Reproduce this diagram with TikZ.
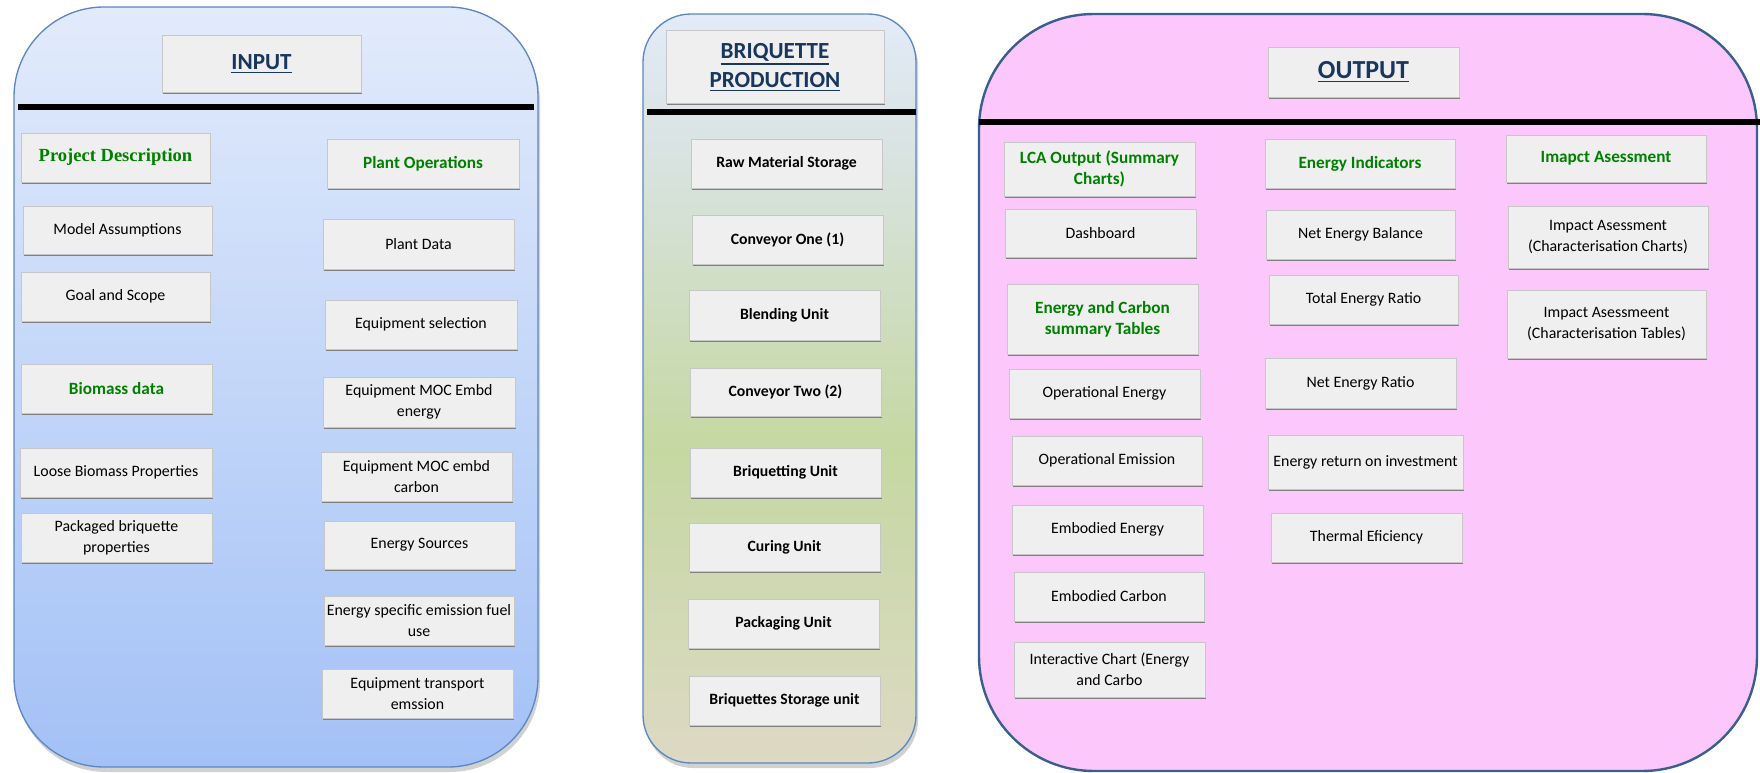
\documentclass[tikz,border=0pt]{standalone}
\usepackage{fontspec}
\setmainfont{Carlito}
\newfontfamily\serifbold{Liberation Serif}
\usetikzlibrary{shadows}

\definecolor{inTop}{HTML}{E2EBFB}
\definecolor{inBot}{HTML}{A3C1F6}
\definecolor{panelEdge}{HTML}{5B87C2}
\definecolor{outEdge}{HTML}{3A5F8E}
\definecolor{outFill}{HTML}{FCC8FC}
\definecolor{btnFill}{HTML}{EFEFEF}
\definecolor{hdrGreen}{HTML}{008000}
\definecolor{titleBlue}{HTML}{17375E}
\definecolor{brqTop}{HTML}{E2EBF8}
\definecolor{brqUpper}{HTML}{D9E3E2}
\definecolor{brqMid}{HTML}{C5D8A2}
\definecolor{brqBot}{HTML}{DDD9C4}
\pgfdeclareverticalshading{brqshade}{100bp}{color(0bp)=(brqBot); color(25bp)=(brqBot); color(46bp)=(brqMid); color(66bp)=(brqUpper); color(75bp)=(brqTop); color(100bp)=(brqTop)}

% underlined heading word
\newcommand\ulword[1]{\leavevmode\vtop{\hbox{#1}\kern1.6pt\hrule height 0.9pt}}

\tikzset{
  btn/.style={draw=black!22, line width=0.5pt, fill=btnFill,
    drop shadow={shadow xshift=1pt, shadow yshift=-1.2pt, opacity=1, fill=black!50},
    inner sep=1pt, align=center, text=black,
    font=\fontsize{11.9}{15.5}\selectfont},
  hdr/.style={btn, text=hdrGreen, font=\bfseries\fontsize{12.9}{16}\selectfont},
  unitbox/.style={btn, font=\bfseries\fontsize{11.8}{14}\selectfont},
  ttl/.style={btn, text=titleBlue, font=\bfseries\fontsize{17.3}{22}\selectfont},
  place/.style n args={4}{minimum width={((#3)-(#1))*0.75pt}, minimum height={((#4)-(#2))*0.75pt},
    at={({((#1)+(#3))/2},{((#2)+(#4))/2})}},
  sepline/.style={line width=4.8pt, black},
}

\begin{document}
\begin{tikzpicture}[x=0.75pt, y=-0.75pt]
\useasboundingbox (0,0) rectangle (1760,773);

% ---------- INPUT panel ----------
\fill[black, opacity=0.18, rounded corners=67.5pt] (16,12) rectangle (540,772);
\shadedraw[top color=inTop, bottom color=inBot, draw=panelEdge, line width=1pt, rounded corners=67.5pt]
  (14,7) rectangle (538,767);
\draw[sepline] (18,107) -- (534,107);

\node[ttl, place={162}{35}{361}{92}] (inTitle) {\ulword{INPUT}};

\node[hdr, font=\serifbold\bfseries\fontsize{13.9}{16}\selectfont, place={21}{133}{210}{182}] (projDesc) {Project Description};
\node[btn, place={23}{206}{212}{254}] (modelAss) {Model Assumptions};
\node[btn, place={21}{272}{210}{321}] (goalScope) {Goal and Scope};
\node[hdr, place={21}{364}{212}{413}] (biomass) {Biomass data};
\node[btn, place={20}{448}{212}{497}] (looseBio) {Loose Biomass Properties};
\node[btn, place={21}{513}{212}{562}] (packBriq) {Packaged briquette\\properties};

\node[hdr, place={327}{139}{519}{188}] (plantOps) {Plant Operations};
\node[btn, place={323}{219}{514}{269}] (plantData) {Plant Data};
\node[btn, place={325}{300}{517}{349}] (eqSel) {Equipment selection};
\node[btn, place={323}{377}{515}{427}] (eqMocE) {Equipment MOC Embd\\energy};
\node[btn, place={321}{452}{512}{501}] (eqMocC) {Equipment MOC embd\\carbon};
\node[btn, place={324}{521}{515}{569}] (enSrc) {Energy Sources};
\node[btn, place={324}{596}{514}{645}] (enSpec) {Energy specific emission fuel\\use};
\node[btn, place={322}{669}{513}{718}] (eqTrans) {Equipment transport\\emssion};

% ---------- BRIQUETTE PRODUCTION panel ----------
\fill[black, opacity=0.18, rounded corners=36pt] (645,18) rectangle (918,768);
\shadedraw[shading=brqshade, draw=panelEdge, line width=1pt, rounded corners=36pt]
  (643,14) rectangle (916,763);
\draw[sepline] (647,112) -- (916,112);

\node[ttl, place={666}{28}{884}{101}, yshift=-2pt] (brqTitle) {\ulword{BRIQUETTE}\\\ulword{PRODUCTION}};

\node[unitbox, place={691}{139}{882}{188}] (rawStore) {Raw Material Storage};
\node[unitbox, place={692}{215}{883}{264}] (convOne) {Conveyor One (1)};
\node[unitbox, place={689}{290}{880}{340}] (blend) {Blending Unit};
\node[unitbox, place={690}{368}{881}{416}] (convTwo) {Conveyor Two (2)};
\node[unitbox, place={690}{448}{881}{497}] (briqUnit) {Briquetting Unit};
\node[unitbox, place={689}{523}{880}{571}] (curing) {Curing Unit};
\node[unitbox, place={688}{599}{879}{648}] (packUnit) {Packaging Unit};
\node[unitbox, place={689}{676}{880}{725}] (briqStore) {Briquettes Storage unit};

% ---------- OUTPUT panel ----------
\draw[fill=outFill, draw=outEdge, line width=1.8pt, rounded corners=86pt]
  (979,14) rectangle (1757,771);
\draw[sepline] (979,122) -- (1760,122);

\node[ttl, font=\bfseries\fontsize{19.5}{24}\selectfont, place={1268}{47}{1459}{97}] (outTitle) {\ulword{OUTPUT}};

\node[hdr, place={1004}{142}{1195}{196}] (lcaOut) {LCA Output (Summary\\Charts)};
\node[btn, place={1005}{209}{1196}{257}] (dash) {Dashboard};
\node[hdr, place={1007}{284}{1198}{354}] (ecTables) {Energy and Carbon\\summary Tables};
\node[btn, place={1009}{369}{1200}{418}] (opEnergy) {Operational Energy};
\node[btn, place={1012}{436}{1202}{485}] (opEmis) {Operational Emission};
\node[btn, place={1012}{505}{1203}{554}] (embEnergy) {Embodied Energy};
\node[btn, place={1014}{572}{1204}{621}] (embCarbon) {Embodied Carbon};
\node[btn, place={1014}{642}{1205}{697}] (interChart) {Interactive Chart (Energy\\and Carbo};

\node[hdr, place={1265}{139}{1455}{188}] (enInd) {Energy Indicators};
\node[btn, place={1266}{210}{1455}{259}] (netBal) {Net Energy Balance};
\node[btn, place={1269}{275}{1458}{324}] (totRatio) {Total Energy Ratio};
\node[btn, place={1265}{358}{1456}{408}] (netRatio) {Net Energy Ratio};
\node[btn, place={1268}{435}{1463}{489}] (eroi) {Energy return on investment};
\node[btn, place={1271}{513}{1462}{562}] (thermEff) {Thermal Eficiency};

\node[hdr, place={1506}{135}{1706}{182}] (impHdr) {Imapct Asessment};
\node[btn, place={1508}{206}{1708}{268}] (impCharts) {Impact Asessment\\(Characterisation Charts)};
\node[btn, place={1507}{290}{1706}{358}] (impTables) {Impact Asessmeent\\(Characterisation Tables)};
\end{tikzpicture}
\end{document}
